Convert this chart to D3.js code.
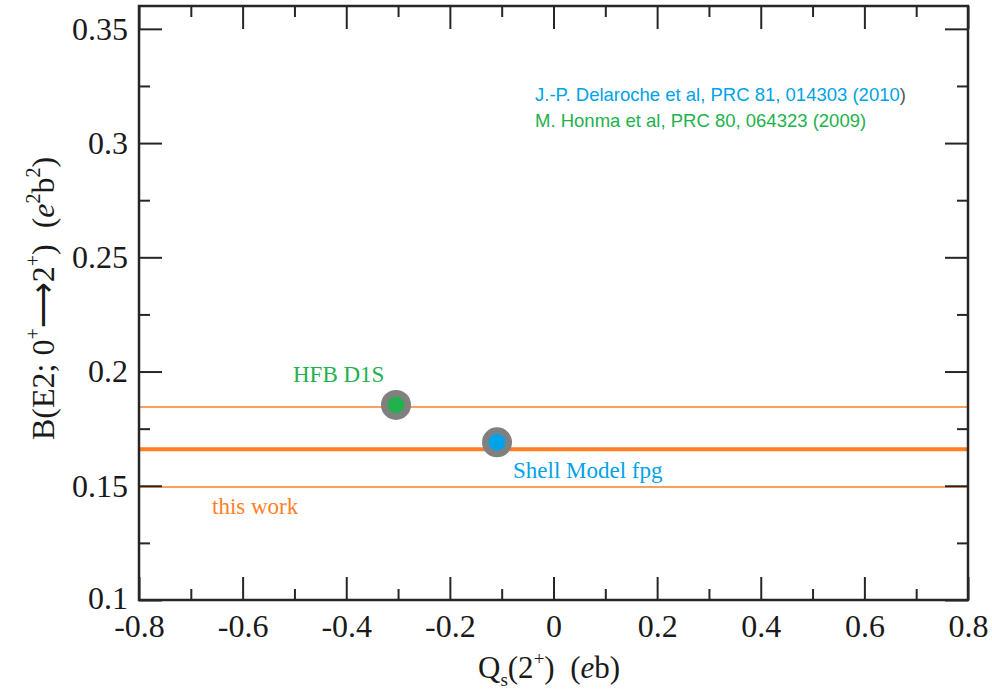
<!DOCTYPE html>
<html>
<head>
<meta charset="utf-8">
<script src="https://cdn.jsdelivr.net/npm/d3@7"></script>
<style>
  html, body { margin: 0; padding: 0; background: #fff; }
  svg { display: block; }
</style>
</head>
<body>
<svg id="chart" width="992" height="692"></svg>
<script>
// Axis ranges and ticks
const xDomain = [-0.8, 0.8];
const yDomain = [0.1, 0.36];
const xMajorTicks = [-0.8, -0.6, -0.4, -0.2, 0, 0.2, 0.4, 0.6, 0.8];
const xMinorTicks = [-0.7, -0.5, -0.3, -0.1, 0.1, 0.3, 0.5, 0.7];
const yMajorTicks = [0.1, 0.15, 0.2, 0.25, 0.3, 0.35];
const yMinorTicks = [0.125, 0.175, 0.225, 0.275, 0.325];
const xTickLabels = ["-0.8", "-0.6", "-0.4", "-0.2", "0", "0.2", "0.4", "0.6", "0.8"];
const yTickLabels = ["0.1", "0.15", "0.2", "0.25", "0.3", "0.35"];

// Measured B(E2) band: upper limit, central value, lower limit
const bandValues = [0.1845, 0.166, 0.1495];
const bandWidths = [1.5, 4, 1.5];

// Theory points: Q_s and B(E2)
const pointNames = ["HFB D1S", "Shell Model fpg"];
const pointQ = [-0.304, -0.109];
const pointBE2 = [0.1854, 0.169];
const pointColors = ["#22b14c", "#00a2e8"];

(function () {
  const svg = d3.select("#chart");
  const mLeft = 139, mRight = 968, mTop = 6, mBottom = 600;

  const x = d3.scaleLinear().domain(xDomain).range([mLeft, mRight]);
  const y = d3.scaleLinear().domain(yDomain).range([mBottom, mTop]);

  const axisColor = "#262626";
  const serif = "'Liberation Serif', 'Times New Roman', serif";
  const sans = "'Liberation Sans', Arial, sans-serif";
  const orange = "#ff7f27";
  const tickFont = 32;

  // Band lines
  svg.append("g").selectAll("line")
    .data(bandValues)
    .join("line")
    .attr("x1", x(xDomain[0]))
    .attr("x2", x(xDomain[1]))
    .attr("y1", d => y(d))
    .attr("y2", d => y(d))
    .attr("stroke", orange)
    .attr("stroke-width", (d, i) => bandWidths[i]);

  // Inward ticks on all four sides
  function styleAxis(g) {
    g.select(".domain").remove();
    g.selectAll(".tick line").attr("stroke", axisColor).attr("stroke-width", 2);
  }
  const majorLen = 23, minorLen = 11;

  svg.append("g").attr("transform", `translate(0,${mBottom})`)
    .call(d3.axisBottom(x).tickValues(xMajorTicks).tickSize(-majorLen)
      .tickFormat((d, i) => xTickLabels[i]).tickPadding(14))
    .call(styleAxis)
    .call(g => g.selectAll("text").attr("font-family", serif).attr("font-size", tickFont).attr("fill", "#1a1a1a"));
  svg.append("g").attr("transform", `translate(0,${mBottom})`)
    .call(d3.axisBottom(x).tickValues(xMinorTicks).tickSize(-minorLen).tickFormat(""))
    .call(styleAxis);
  svg.append("g").attr("transform", `translate(0,${mTop})`)
    .call(d3.axisTop(x).tickValues(xMajorTicks).tickSize(-majorLen).tickFormat(""))
    .call(styleAxis);
  svg.append("g").attr("transform", `translate(0,${mTop})`)
    .call(d3.axisTop(x).tickValues(xMinorTicks).tickSize(-minorLen).tickFormat(""))
    .call(styleAxis);

  svg.append("g").attr("transform", `translate(${mLeft},0)`)
    .call(d3.axisLeft(y).tickValues(yMajorTicks).tickSize(-majorLen)
      .tickFormat((d, i) => yTickLabels[i]).tickPadding(11))
    .call(styleAxis)
    .call(g => g.selectAll("text").attr("font-family", serif).attr("font-size", tickFont).attr("fill", "#1a1a1a")
      .attr("dy", (d, i) => i === 0 ? "0.28em" : "0.32em"));
  svg.append("g").attr("transform", `translate(${mLeft},0)`)
    .call(d3.axisLeft(y).tickValues(yMinorTicks).tickSize(-minorLen).tickFormat(""))
    .call(styleAxis);
  svg.append("g").attr("transform", `translate(${mRight},0)`)
    .call(d3.axisRight(y).tickValues(yMajorTicks).tickSize(-majorLen).tickFormat(""))
    .call(styleAxis);
  svg.append("g").attr("transform", `translate(${mRight},0)`)
    .call(d3.axisRight(y).tickValues(yMinorTicks).tickSize(-minorLen).tickFormat(""))
    .call(styleAxis);

  // Frame
  svg.append("rect")
    .attr("x", mLeft).attr("y", mTop)
    .attr("width", mRight - mLeft).attr("height", mBottom - mTop)
    .attr("fill", "none").attr("stroke", axisColor).attr("stroke-width", 2.5);

  // Theory points
  const pts = svg.append("g").selectAll("g")
    .data(pointNames.map((n, i) => ({ n, q: pointQ[i], b: pointBE2[i], c: pointColors[i] })))
    .join("g");
  pts.append("circle").attr("cx", d => x(d.q)).attr("cy", d => y(d.b)).attr("r", 15).attr("fill", "#808080");
  pts.append("circle").attr("cx", d => x(d.q)).attr("cy", d => y(d.b)).attr("r", 8.5).attr("fill", d => d.c);

  // Point and band labels
  svg.append("text").attr("x", 293).attr("y", 382)
    .attr("font-family", serif).attr("font-size", 23).attr("fill", pointColors[0]).text(pointNames[0]);
  svg.append("text").attr("x", 513).attr("y", 478)
    .attr("font-family", serif).attr("font-size", 23).attr("fill", pointColors[1]).text(pointNames[1]);
  svg.append("text").attr("x", 212).attr("y", 514)
    .attr("font-family", serif).attr("font-size", 23).attr("fill", orange).text("this work");

  // References
  const ref1 = svg.append("text").attr("x", 535).attr("y", 101)
    .attr("font-family", sans).attr("font-size", 18.5).attr("fill", pointColors[1]);
  ref1.append("tspan").text("J.-P. Delaroche et al, PRC 81, 014303 (2010");
  ref1.append("tspan").attr("fill", "#555").text(")");
  svg.append("text").attr("x", 535).attr("y", 127)
    .attr("font-family", sans).attr("font-size", 18.5).attr("fill", pointColors[0])
    .text("M. Honma et al, PRC 80, 064323 (2009)");

  // X axis title: Q_s(2+)  (eb)
  const xt = svg.append("text").attr("x", 478).attr("y", 678)
    .attr("font-family", serif).attr("font-size", 31).attr("fill", "#1a1a1a")
    .attr("xml:space", "preserve");
  xt.append("tspan").text("Q");
  xt.append("tspan").attr("font-size", 19).attr("dy", 8).text("s");
  xt.append("tspan").attr("dy", -8).text("(2");
  xt.append("tspan").attr("font-size", 19).attr("dy", -13).text("+");
  xt.append("tspan").attr("dy", 13).text(")  (");
  xt.append("tspan").attr("font-style", "italic").text("e");
  xt.append("tspan").text("b)");

  // Y axis title: B(E2; 0+ -> 2+)  (e^2 b^2)
  const yt = svg.append("text")
    .attr("transform", "translate(54,440) rotate(-90)")
    .attr("font-family", serif).attr("font-size", 32).attr("fill", "#1a1a1a")
    .attr("xml:space", "preserve");
  yt.append("tspan").text("B(E2; 0");
  yt.append("tspan").attr("font-size", 20).attr("dy", -14).text("+");
  yt.append("tspan").attr("dy", 14).text("\u27F62");
  yt.append("tspan").attr("font-size", 20).attr("dy", -14).text("+");
  yt.append("tspan").attr("dy", 14).text(")  (");
  yt.append("tspan").attr("font-style", "italic").text("e");
  yt.append("tspan").attr("font-size", 20).attr("dy", -14).text("2");
  yt.append("tspan").attr("dy", 14).text("b");
  yt.append("tspan").attr("font-size", 20).attr("dy", -14).text("2");
  yt.append("tspan").attr("dy", 14).text(")");
})();
</script>
</body>
</html>
